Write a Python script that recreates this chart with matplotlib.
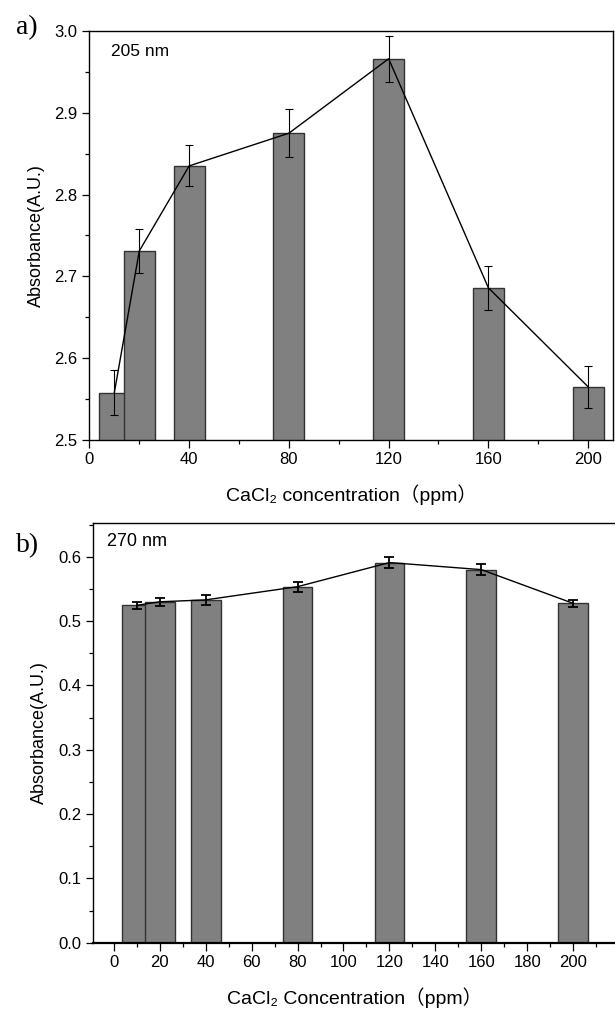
import matplotlib.pyplot as plt
from matplotlib.ticker import MultipleLocator

# CaCl2 concentration (ppm) and absorbance readings
conc = [10, 20, 40, 80, 120, 160, 200]
abs_205 = [2.558, 2.731, 2.835, 2.875, 2.966, 2.686, 2.565]
err_205 = [0.028, 0.027, 0.025, 0.029, 0.028, 0.027, 0.026]
abs_270 = [0.5245, 0.530, 0.533, 0.5535, 0.591, 0.580, 0.5275]
err_270 = [0.005, 0.006, 0.008, 0.008, 0.009, 0.009, 0.006]

SANS = ["Liberation Sans", "DejaVu Sans"]
LABEL = ["Liberation Sans", "DejaVu Sans", "Noto Sans CJK SC"]
SERIF = ["Liberation Serif", "DejaVu Serif"]

plt.rcParams.update({
    "font.family": SANS,
    "axes.linewidth": 1.0,
    "xtick.direction": "out",
    "ytick.direction": "out",
    "xtick.major.size": 5.5,
    "ytick.major.size": 5.0,
    "xtick.minor.size": 3.2,
    "ytick.minor.size": 3.2,
    "xtick.major.width": 0.9,
    "ytick.major.width": 0.9,
    "xtick.minor.width": 0.9,
    "ytick.minor.width": 0.9,
})


def draw_panel(ax, values, errors, width, err_lw, cap):
    ax.bar(conc, values, width=width, color="#808080", edgecolor="#333333",
           linewidth=1.0, zorder=2)
    ax.plot(conc, values, color="black", linewidth=1.0, zorder=3)
    ax.errorbar(conc, values, yerr=errors, fmt="none", ecolor="black",
                elinewidth=err_lw, capsize=cap, capthick=err_lw, zorder=4)
    ax.tick_params(axis="x", labelsize=12)
    ax.tick_params(axis="y", labelsize=12)


fig = plt.figure(figsize=(6.15, 10.14), dpi=100)

# panel a, 205 nm
ax_a = fig.add_axes([0.1454, 0.5661, 0.8514, 0.4034])
ax_a.set_xlim(0, 210)
ax_a.set_ylim(2.5, 3.0)
ax_a.xaxis.set_major_locator(MultipleLocator(40))
ax_a.xaxis.set_minor_locator(MultipleLocator(20))
ax_a.yaxis.set_major_locator(MultipleLocator(0.1))
ax_a.yaxis.set_minor_locator(MultipleLocator(0.05))
ax_a.yaxis.set_major_formatter(lambda v, p: f"{v:.1f}")
draw_panel(ax_a, abs_205, err_205, 12.4, 0.8, 3.2)
ax_a.text(0.041, 0.949, "205 nm", transform=ax_a.transAxes, fontsize=12.5,
          va="center", ha="left")
ax_a.set_ylabel("Absorbance(A.U.)", fontsize=13, labelpad=7)
ax_a.set_xlabel("CaCl\u2082 concentration\uff08ppm\uff09", family=LABEL,
                fontsize=14, labelpad=12)

# panel b, 270 nm
ax_b = fig.add_axes([0.1512, 0.0703, 0.8520, 0.4136])
ax_b.set_xlim(-9, 219)
ax_b.set_ylim(0, 0.652)
ax_b.xaxis.set_major_locator(MultipleLocator(20))
ax_b.xaxis.set_minor_locator(MultipleLocator(10))
ax_b.yaxis.set_major_locator(MultipleLocator(0.1))
ax_b.yaxis.set_minor_locator(MultipleLocator(0.05))
ax_b.yaxis.set_major_formatter(lambda v, p: f"{v:.1f}")
ax_b.spines["bottom"].set_linewidth(1.6)
draw_panel(ax_b, abs_270, err_270, 13.0, 1.3, 3.5)
ax_b.text(0.026, 0.956, "270 nm", transform=ax_b.transAxes, fontsize=13,
          va="center", ha="left")
ax_b.set_ylabel("Absorbance(A.U.)", fontsize=13, labelpad=7)
ax_b.set_xlabel("CaCl\u2082 Concentration\uff08ppm\uff09", family=LABEL,
                fontsize=14, labelpad=12)

fig.text(0.026, 0.973, "a)", family=SERIF, fontsize=20, va="center", ha="left")
fig.text(0.026, 0.462, "b)", family=SERIF, fontsize=20, va="center", ha="left")

fig.savefig("out.png", dpi=100)
